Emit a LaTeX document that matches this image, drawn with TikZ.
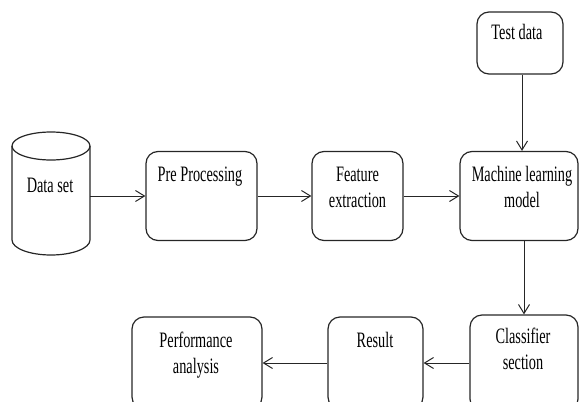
\documentclass[tikz,border=0pt]{standalone}
\usepackage{fontspec}
\setmainfont[FakeStretch=0.65]{Liberation Serif}
\usetikzlibrary{arrows.meta}
\definecolor{ink}{HTML}{262626}
\begin{document}
\begin{tikzpicture}[x=1pt,y=-1pt,
  box/.style={draw=ink, line width=1.2pt, rounded corners=12pt, inner sep=0pt},
  lbl/.style={inner sep=0pt, anchor=north, align=center, text=black,
    font=\fontsize{22}{26}\selectfont},
  arr/.style={draw=ink, line width=1pt, -{Straight Barb[length=9pt,width=11pt,line width=1pt]}}]
\useasboundingbox (0,0) rectangle (579,402);
\clip (0,0) rectangle (579,402);
% data set cylinder
\node[minimum width=78pt, minimum height=123pt, inner sep=0pt] (ds) at (51,196) {};
\draw[ink, line width=1.2pt] (51,146) ellipse[x radius=39, y radius=14];
\draw[ink, line width=1.2pt] (12,146) -- (12,240) arc[start angle=180, end angle=360, x radius=39, y radius=-15] -- (90,146);
\node[lbl] (dst) at (50,178) {Data set};
% boxes
\node[box, minimum width=111pt, minimum height=89pt] (pp) at (201.5,196) {};
\node[lbl] (ppt) at (200,167) {Pre Processing};
\node[box, minimum width=91pt, minimum height=89pt] (fe) at (357.5,196) {};
\node[lbl] (fet) at (357.5,167) {Feature\\extraction};
\node[box, minimum width=118pt, minimum height=89pt] (ml) at (519,196) {};
\node[lbl] (mlt) at (522,166) {Machine learning\\model};
\node[box, minimum width=86pt, minimum height=62pt] (td) at (520,43) {};
\node[lbl] (tdt) at (517,24) {Test data};
\node[box, minimum width=130pt, minimum height=92pt] (pf) at (197,363) {};
\node[lbl] (pft) at (196,332) {Performance\\analysis};
\node[box, minimum width=95pt, minimum height=92pt] (rs) at (375.5,363) {};
\node[lbl] (rst) at (375,332) {Result};
\node[box, minimum width=108pt, minimum height=96pt] (cl) at (524,363) {};
\node[lbl] (clt) at (523,328) {Classifier\\section};
% connectors
\draw[arr] (ds.east) -- (pp.west);
\draw[arr] (pp.east) -- (fe.west);
\draw[arr] (fe.east) -- (ml.west);
\draw[arr] ([xshift=2pt]td.south) -- ([xshift=2pt]td.south |- ml.north);
\draw[arr] (cl.north |- ml.south) -- (cl.north);
\draw[arr] (cl.west) -- (rs.east);
\draw[arr] (rs.west) -- (pf.east);
\end{tikzpicture}
\end{document}
